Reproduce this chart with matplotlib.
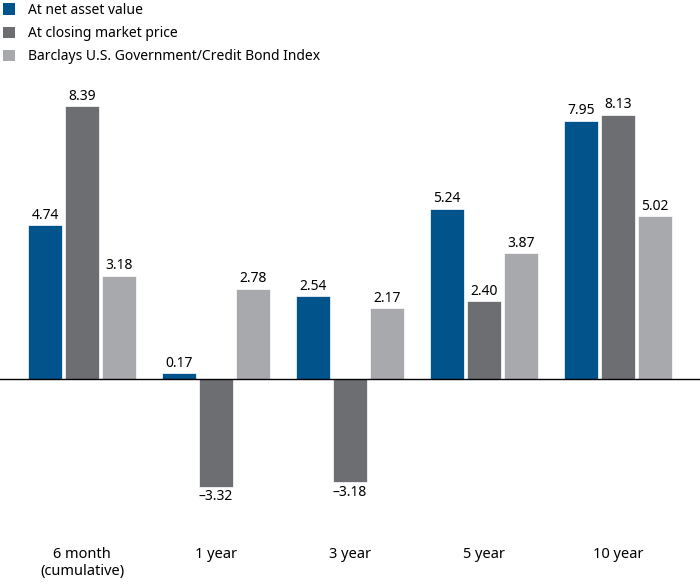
import numpy as np
import matplotlib.pyplot as plt
from matplotlib.patches import Patch

plt.rcParams['font.family'] = ['Noto Sans', 'DejaVu Sans']

periods = ['6 month\n(cumulative)', '1 year', '3 year', '5 year', '10 year']
series = ['At net asset value', 'At closing market price',
          'Barclays U.S. Government/Credit Bond Index']
nav = [4.74, 0.17, 2.54, 5.24, 7.95]
market = [8.39, -3.32, -3.18, 2.40, 8.13]
index = [3.18, 2.78, 2.17, 3.87, 5.02]
colors = ['#00538b', '#6d6e71', '#a7a9ac']

W, H = 700, 584
fig = plt.figure(figsize=(W / 100, H / 100), dpi=100)
# axes from y px 90 (top) to 500 (bottom), full width
ax = fig.add_axes([0, (H - 500) / H, 1, 410 / H])

x = np.arange(len(periods))
width = 34 / 134
step = 37 / 134

for k, (vals, c) in enumerate(zip([nav, market, index], colors)):
    pos = x + (k - 1) * step
    bars = ax.bar(pos, vals, width, color=c, edgecolor='white', linewidth=0.5)
    for b, v in zip(bars, vals):
        txt = f'{v:.2f}'.replace('-', '\u2013')
        if v >= 0:
            ax.text(b.get_x() + b.get_width() / 2, v + 0.07, txt,
                    ha='center', va='bottom', fontsize=10)
        else:
            ax.text(b.get_x() + b.get_width() / 2, v - 0.07, txt,
                    ha='center', va='top', fontsize=10)

ax.axhline(0, color='black', linewidth=1)
ax.set_xlim(-82 / 134, (700 - 82) / 134)
ax.set_ylim(-(500 - 379) / 32.5, (379 - 90) / 32.5)
ax.axis('off')

for i, p in enumerate(periods):
    fig.text((82 + 134 * i) / W, 1 - 547 / H, p, ha='center', va='top',
             fontsize=10.5, linespacing=1.2)

handles = [Patch(facecolor=c, edgecolor='none') for c in colors]
fig.legend(handles, series, loc='upper left', bbox_to_anchor=(0, 1),
           frameon=False, fontsize=10, handlelength=0.9, handleheight=0.9,
           handletextpad=0.9, labelspacing=0.6, borderpad=0.1,
           borderaxespad=0.1)

fig.savefig('out.png', dpi=100)
